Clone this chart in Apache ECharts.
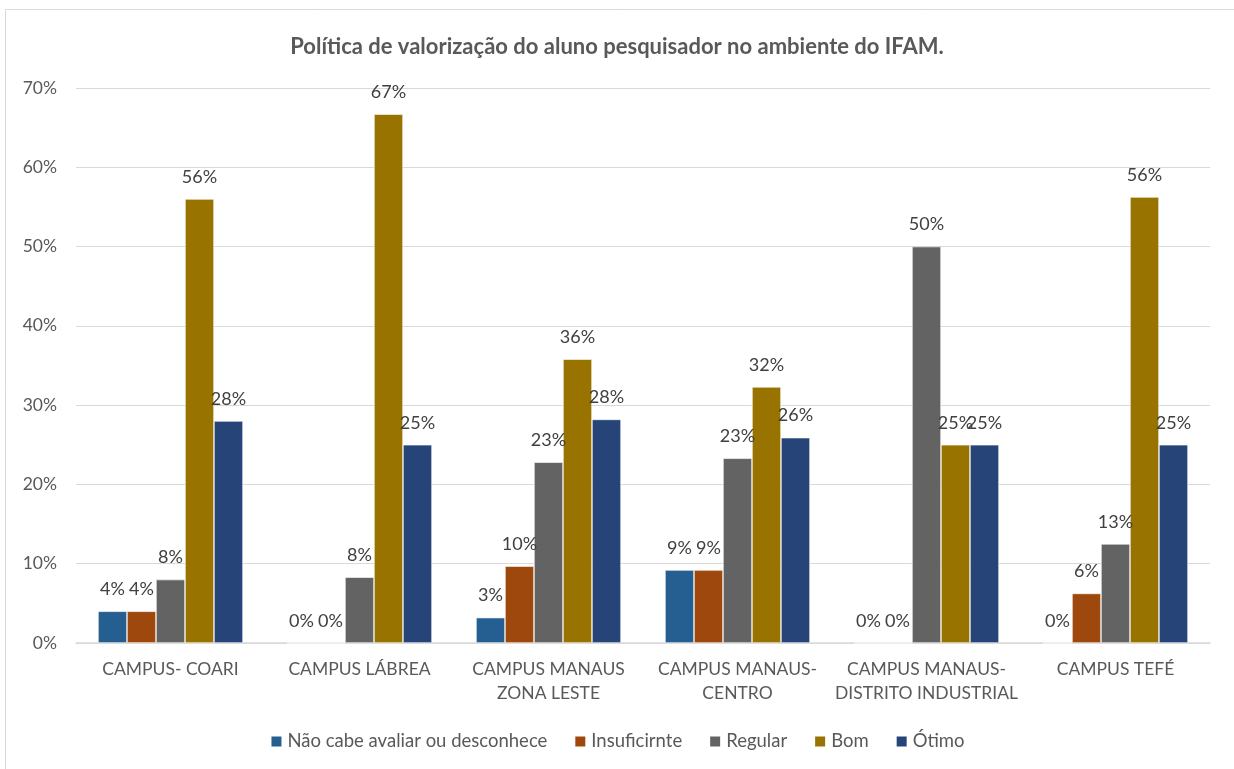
<!DOCTYPE html>
<html>
<head>
<meta charset="utf-8">
<script src="https://cdn.jsdelivr.net/npm/echarts@6/dist/echarts.min.js"></script>
<style>
  html, body { margin: 0; padding: 0; background: #fff; }
  #chart { width: 1234px; height: 769px; }
</style>
</head>
<body>
<div id="chart"></div>
<script>
const categories = [
  'CAMPUS- COARI',
  'CAMPUS LÁBREA',
  'CAMPUS MANAUS\nZONA LESTE',
  'CAMPUS MANAUS-\nCENTRO',
  'CAMPUS MANAUS-\nDISTRITO INDUSTRIAL',
  'CAMPUS TEFÉ',
];
const seriesNames = ['Não cabe avaliar ou desconhece', 'Insuficirnte', 'Regular', 'Bom', 'Ótimo'];
const naoCabe = [4, 0, 3.2, 9.2, 0, 0];
const insuficiente = [4, 0, 9.7, 9.2, 0, 6.25];
const regular = [8, 8.3, 22.8, 23.3, 50, 12.5];
const bom = [56, 66.7, 35.8, 32.3, 25, 56.25];
const otimo = [28, 25, 28.2, 25.9, 25, 25];
const colors = ['#255E91', '#9E480E', '#636363', '#997300', '#264478'];

const font = 'Lato, "Open Sans", sans-serif';
const chart = echarts.init(document.getElementById('chart'));

const values = [naoCabe, insuficiente, regular, bom, otimo];
const series = values.map((data, i) => ({
  name: seriesNames[i],
  type: 'bar',
  data: data,
  barWidth: 29,
  barGap: '0%',
  itemStyle: { color: colors[i], borderColor: '#ffffff', borderWidth: 0.6 },
  label: {
    show: true,
    position: 'top',
    distance: 13,
    color: '#404040',
    fontFamily: font,
    fontSize: 18,
    formatter: (p) => Math.round(p.value) + '%',
  },
}));

chart.setOption({
  backgroundColor: '#fff',
  animation: false,
  graphic: [{
    type: 'rect',
    shape: { x: 5.5, y: 9.5, width: 1240, height: 780 },
    style: { fill: 'none', stroke: '#d9d9d9', lineWidth: 1 },
  }],
  title: {
    text: 'Política de valorização do aluno pesquisador no ambiente do IFAM.',
    left: 'center',
    top: 31,
    textStyle: { color: '#595959', fontFamily: font, fontSize: 22, fontWeight: 'bold' },
  },
  legend: {
    bottom: 13,
    left: 'center',
    itemWidth: 12,
    itemHeight: 12,
    itemGap: 26,
    textStyle: { color: '#595959', fontFamily: font, fontSize: 18.5 },
    data: seriesNames.map((n) => ({ name: n, icon: 'rect' })),
  },
  grid: { left: 76, right: 24, top: 88, bottom: 126 },
  xAxis: {
    type: 'category',
    data: categories,
    axisTick: { show: false },
    axisLine: { lineStyle: { color: '#d9d9d9', width: 1.5 } },
    axisLabel: {
      color: '#595959', fontFamily: font, fontSize: 17.5, lineHeight: 24, margin: 14,
      interval: 0,
    },
  },
  yAxis: {
    type: 'value',
    min: 0,
    max: 70,
    interval: 10,
    axisLine: { show: false },
    axisTick: { show: false },
    axisLabel: { color: '#595959', fontFamily: font, fontSize: 17.5, margin: 19, formatter: '{value}%' },
    splitLine: { lineStyle: { color: '#d9d9d9', width: 1.2 } },
  },
  series: series,
});
</script>
</body>
</html>
